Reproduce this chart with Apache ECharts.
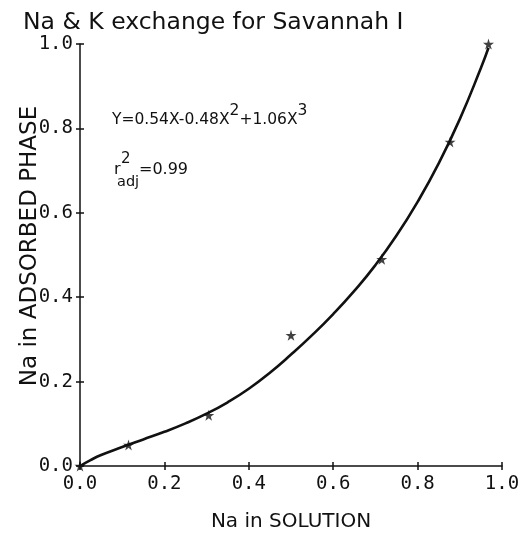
<!DOCTYPE html>
<html>
<head>
<meta charset="utf-8">
<title>Na &amp; K exchange for Savannah I</title>
<script src="https://cdn.jsdelivr.net/npm/echarts@6/dist/echarts.min.js"></script>
<style>
  html, body { margin: 0; padding: 0; background: #fff; }
  #chart { width: 532px; height: 538px; }
</style>
</head>
<body>
<div id="chart"></div>
<script>
// Measured exchange points: Na fraction in solution vs. in adsorbed phase
const solutionNa = [0.0, 0.115, 0.305, 0.50, 0.715, 0.877, 0.968];
const adsorbedNa = [0.0, 0.050, 0.120, 0.31, 0.490, 0.768, 1.000];

// Fitted cubic curve, traced along its drawn path
const fitX = [0.0, 0.025, 0.05, 0.10, 0.15, 0.20, 0.25, 0.30, 0.35, 0.40, 0.45,
              0.50, 0.55, 0.60, 0.65, 0.70, 0.75, 0.80, 0.85, 0.90, 0.95, 0.968];
const fitY = [0.0, 0.014, 0.026, 0.045, 0.063, 0.081, 0.101, 0.124, 0.151, 0.183, 0.221,
              0.264, 0.310, 0.360, 0.415, 0.476, 0.546, 0.626, 0.717, 0.822, 0.943, 0.991];

const titleText = 'Na & K exchange for Savannah I';
const xName = 'Na in SOLUTION';
const yName = 'Na in ADSORBED PHASE';

const ink = '#111';
const plotFont = 'DejaVu Sans';
const tickFont = 'DejaVu Sans Mono';

const starPath = 'path://M50,0 L61,35 L98,35 L68,57 L79,91 L50,70 L21,91 L32,57 L2,35 L39,35 Z';

const chart = echarts.init(document.getElementById('chart'), null, { renderer: 'canvas' });

function baseAxis(extra) {
  return Object.assign({
    type: 'value',
    min: 0,
    max: 1,
    interval: 0.2,
    splitLine: { show: false },
    axisLine: { show: true, lineStyle: { color: ink, width: 1.5 } },
    axisTick: { show: true, length: 4, lineStyle: { color: ink, width: 1.5 } },
    axisLabel: {
      color: ink,
      fontFamily: tickFont,
      fontSize: 19,
      formatter: v => v.toFixed(1)
    }
  }, extra);
}

// second axis of each pair draws the inward half of the crossing ticks
function innerTicks(position) {
  return baseAxis({
    position: position,
    axisLine: { show: false },
    axisTick: { show: true, inside: true, length: 4, lineStyle: { color: ink, width: 1.5 } },
    axisLabel: { show: false }
  });
}

const textFont = size => size + 'px "' + plotFont + '"';

chart.setOption({
  animation: false,
  backgroundColor: '#fff',
  title: {
    text: titleText,
    left: 18,
    top: 6,
    textStyle: { color: ink, fontFamily: plotFont, fontSize: 23.5, fontWeight: 'normal' }
  },
  grid: { left: 80, right: 30, top: 44, bottom: 72, containLabel: false },
  xAxis: [
    baseAxis({
      name: xName,
      nameLocation: 'middle',
      nameGap: 46,
      nameTextStyle: { color: ink, fontFamily: plotFont, fontSize: 20 },
      axisLabel: { color: ink, fontFamily: tickFont, fontSize: 19, margin: 9,
                   formatter: v => v.toFixed(1) }
    }),
    innerTicks('bottom')
  ],
  yAxis: [
    baseAxis({
      axisLabel: { color: ink, fontFamily: tickFont, fontSize: 19, margin: 7,
                   formatter: v => v.toFixed(1) }
    }),
    innerTicks('left')
  ],
  graphic: [
    {
      type: 'text',
      x: 30,
      y: 246,
      rotation: Math.PI / 2,
      style: {
        text: yName,
        fill: ink,
        font: textFont(23),
        align: 'center',
        verticalAlign: 'middle'
      }
    },
    {
      type: 'text',
      left: 112,
      top: 103,
      style: {
        text: 'Y=0.54X-0.48X{sup|2}+1.06X{sup|3}',
        fill: ink,
        font: textFont(15.5),
        rich: {
          sup: { fontSize: 15.5, fontFamily: plotFont, padding: [0, 0, 17, 0], fill: ink }
        }
      }
    },
    { type: 'text', left: 114, top: 162, style: { text: 'r', fill: ink, font: textFont(16) } },
    { type: 'text', left: 121, top: 152, style: { text: '2', fill: ink, font: textFont(15) } },
    { type: 'text', left: 117, top: 175, style: { text: 'adj', fill: ink, font: textFont(14.5) } },
    { type: 'text', left: 139, top: 162, style: { text: '=0.99', fill: ink, font: textFont(16) } }
  ],
  series: [
    {
      type: 'line',
      xAxisIndex: 0,
      yAxisIndex: 0,
      data: fitX.map((x, i) => [x, fitY[i]]),
      smooth: true,
      showSymbol: false,
      symbol: 'none',
      lineStyle: { color: ink, width: 2.6 },
      z: 2
    },
    {
      type: 'scatter',
      xAxisIndex: 0,
      yAxisIndex: 0,
      data: solutionNa.map((x, i) => [x, adsorbedNa[i]]),
      symbol: starPath,
      symbolSize: 11,
      itemStyle: { color: ink },
      z: 3
    }
  ]
});
</script>
</body>
</html>
